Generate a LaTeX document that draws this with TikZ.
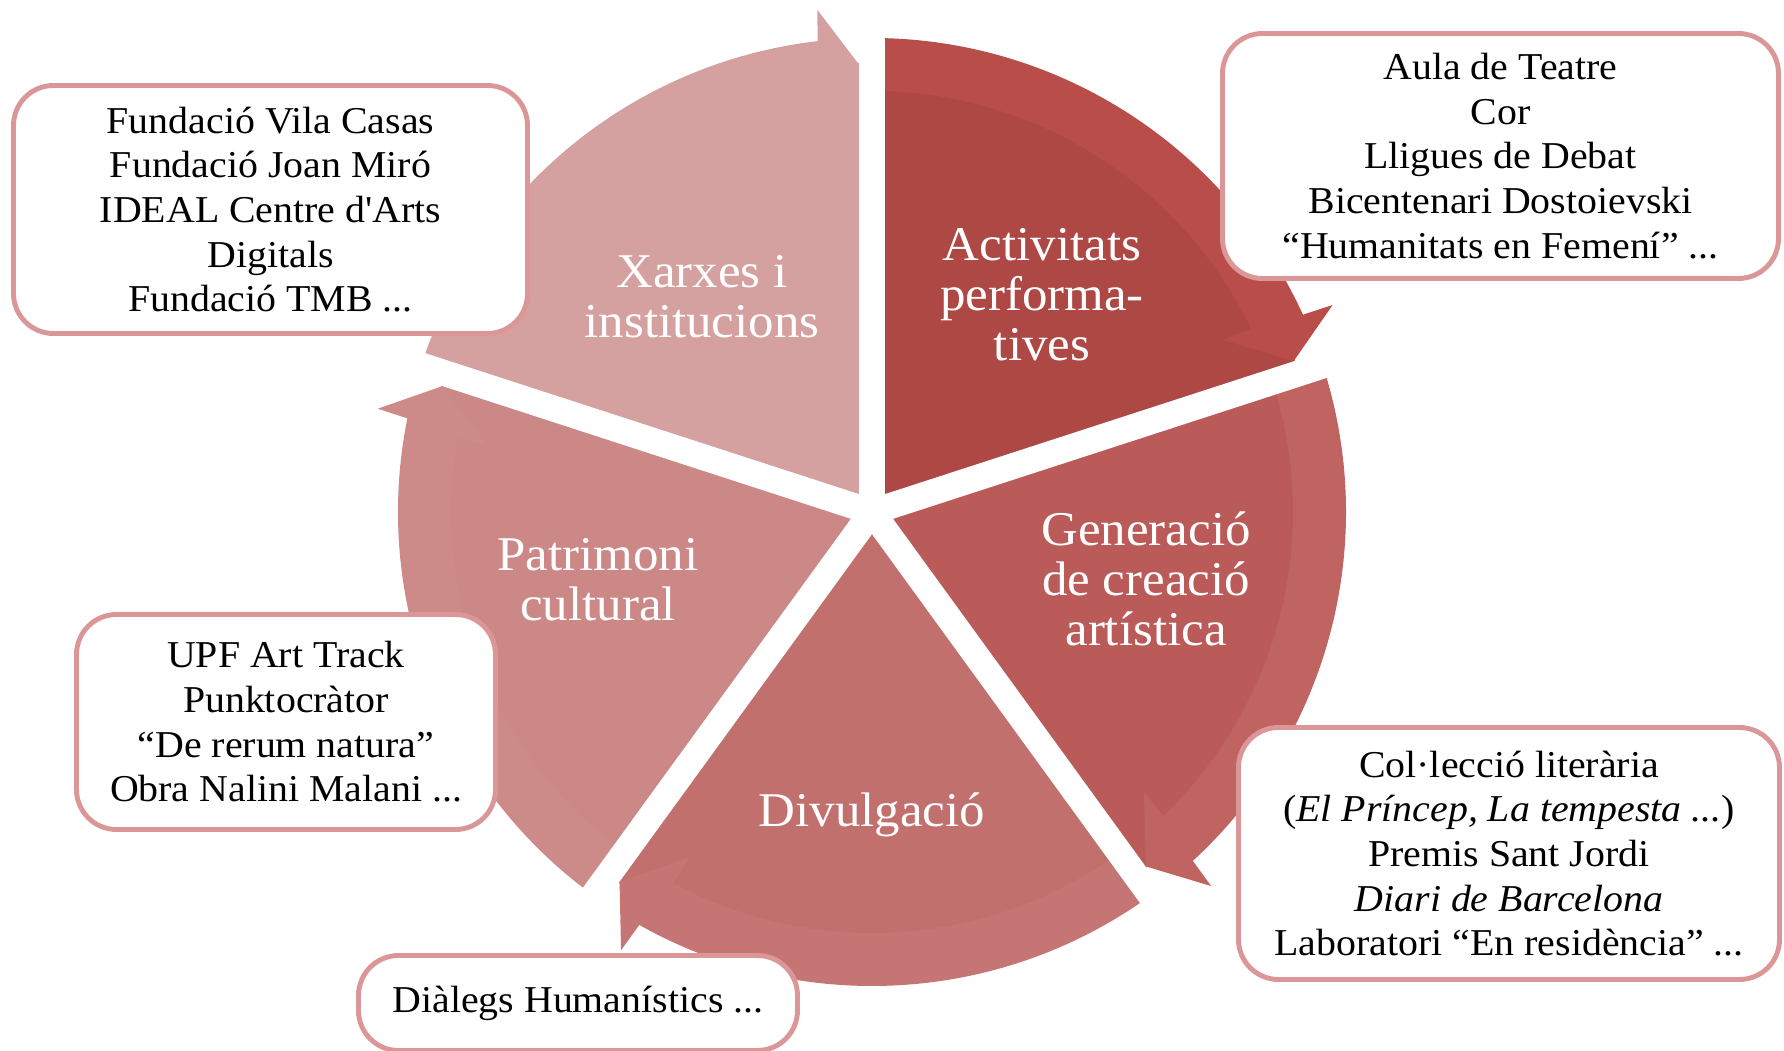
\documentclass[tikz,border=0pt]{standalone}
\usepackage{fontspec}
\setmainfont{Liberation Serif}[FakeStretch=1.05]
\usetikzlibrary{positioning}

\let\pierad\relax
\let\bandin\relax
\let\bandout\relax
\let\headin\relax
\let\headout\relax
\let\tiprad\relax
\let\gapreach\relax
\newcommand{\pierad}{4.49}
\newcommand{\bandin}{4.21}
\newcommand{\bandout}{4.74}
\newcommand{\headin}{3.90}
\newcommand{\headout}{5.05}
\newcommand{\tiprad}{4.48}
\newcommand{\gapreach}{5.2}

\definecolor{actfill}{HTML}{AD4845}
\definecolor{actband}{HTML}{B84D4A}
\definecolor{genfill}{HTML}{BA5B59}
\definecolor{genband}{HTML}{BF6461}
\definecolor{divfill}{HTML}{C2706E}
\definecolor{divband}{HTML}{C67575}
\definecolor{patfill}{HTML}{CB8886}
\definecolor{patband}{HTML}{CC8A88}
\definecolor{xarfill}{HTML}{D5A0A0}
\definecolor{xarband}{HTML}{D5A0A0}
\definecolor{boxline}{HTML}{DB9797}

\tikzstyle{seglabel}=[fill=none,text=white,draw=none,align=center,
                      font=\fontsize{13.8}{14.2}\selectfont]
\tikzstyle{infobox}=[fill=white,text=black,draw=boxline,line width=1.4pt,
                     rounded corners=0.4cm,align=center,inner sep=0pt,
                     font=\fontsize{10.8}{12.7}\selectfont]
\tikzstyle{segmentgap}=[draw=white,line width=0.26cm]

\begin{document}
\begin{tikzpicture}
\useasboundingbox (-8.72,-5.39) rectangle (9.12,5.12);

\fill [actfill] (0,0) -- (90:\pierad) arc[start angle=90, end angle=18, radius=\pierad] -- cycle;
\fill [actband] (90:\bandin) arc[start angle=90, end angle=25.8, radius=\bandin] -- (26.2:\headin)
      -- (19.7:\tiprad) -- (24.2:\headout) -- (24.6:\bandout)
      arc[start angle=24.6, end angle=90, radius=\bandout] -- cycle;

\fill [genfill] (0,0) -- (18:\pierad) arc[start angle=18, end angle=-54, radius=\pierad] -- cycle;
\fill [genband] (18:\bandin) arc[start angle=18, end angle=-46.2, radius=\bandin] -- (-45.8:\headin)
      -- (-52.3:\tiprad) -- (-47.8:\headout) -- (-47.4:\bandout)
      arc[start angle=-47.4, end angle=18, radius=\bandout] -- cycle;

\fill [divfill] (0,0) -- (-54:\pierad) arc[start angle=-54, end angle=-126, radius=\pierad] -- cycle;
\fill [divband] (-54:\bandin) arc[start angle=-54, end angle=-118.2, radius=\bandin] -- (-117.8:\headin)
      -- (-124.3:\tiprad) -- (-119.8:\headout) -- (-119.4:\bandout)
      arc[start angle=-119.4, end angle=-54, radius=\bandout] -- cycle;

\fill [patfill] (0,0) -- (234:\pierad) arc[start angle=234, end angle=162, radius=\pierad] -- cycle;
\fill [patband] (234:\bandin) arc[start angle=234, end angle=169.8, radius=\bandin] -- (170.2:\headin)
      -- (163.7:\tiprad) -- (168.2:\headout) -- (168.6:\bandout)
      arc[start angle=168.6, end angle=234, radius=\bandout] -- cycle;

\fill [xarfill] (0,0) -- (162:\pierad) arc[start angle=162, end angle=90, radius=\pierad] -- cycle;
\fill [xarband] (162:\bandin) arc[start angle=162, end angle=97.8, radius=\bandin] -- (98.2:\headin)
      -- (91.7:\tiprad) -- (96.2:\headout) -- (96.6:\bandout)
      arc[start angle=96.6, end angle=162, radius=\bandout] -- cycle;

\draw [segmentgap] (0,0) -- (90:\gapreach);
\draw [segmentgap] (0,0) -- (18:\gapreach);
\draw [segmentgap] (0,0) -- (-54:\gapreach);
\draw [segmentgap] (0,0) -- (-126:\gapreach);
\draw [segmentgap] (0,0) -- (162:\gapreach);

\node [seglabel] (act) at (1.70,2.17) {Activitats\\performa-\\tives};
\node [seglabel] (gen) at (2.74,-0.67) {Generació\\de creació\\artística};
\node [seglabel] (div) at (0,-3.03) {Divulgació};
\node [seglabel] (pat) at (-2.74,-0.68) {Patrimoni\\cultural};
\node [seglabel] (xar) at (-1.70,2.15) {Xarxes i\\institucions};

\node [infobox, minimum width=5.14cm, minimum height=2.48cm] (vila) at (-6.015,3.025)
      {Fundació Vila Casas\\Fundació Joan Miró\\IDEAL Centre d\textquotesingle Arts\\Digitals\\Fundació TMB ...};
\node [infobox, minimum width=5.56cm, minimum height=2.45cm] (aula) at (6.285,3.56)
      {Aula de Teatre\\Cor\\Lligues de Debat\\Bicentenari Dostoievski\\“Humanitats en Femení” ...};
\node [infobox, minimum width=4.19cm, minimum height=2.15cm] (upf) at (-5.86,-2.10)
      {UPF Art Track\\Punktocràtor\\“De rerum natura”\\Obra Nalini Malani ...};
\node [infobox, minimum width=4.39cm, minimum height=0.95cm] (dialegs) at (-2.94,-4.91)
      {Diàlegs Humanístics ...};
\node [infobox, minimum width=5.41cm, minimum height=2.52cm] (colleccio) at (6.37,-3.415)
      {Col·lecció literària\\(\textit{El Príncep, La tempesta ...})\\Premis Sant Jordi\\\textit{Diari de Barcelona}\\Laboratori “En residència” ...};
\end{tikzpicture}
\end{document}
